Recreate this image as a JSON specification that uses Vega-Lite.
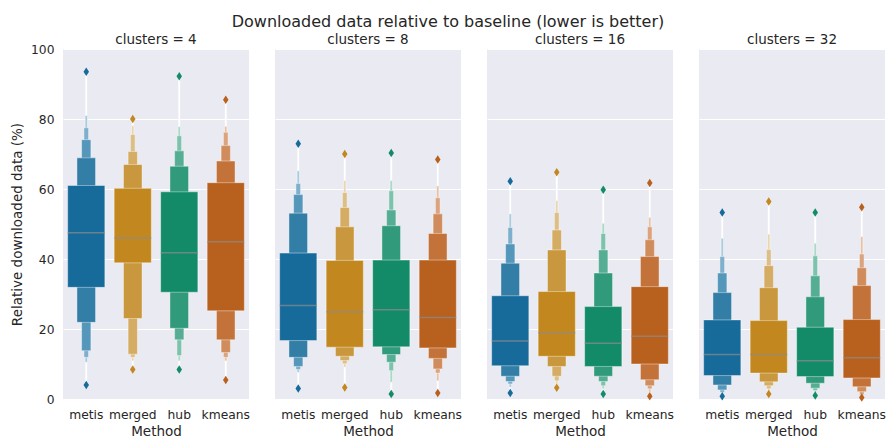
{
  "$schema": "https://vega.github.io/schema/vega-lite/v6.json",
  "background": "white",
  "padding": {"left": 10, "top": 13, "right": 4, "bottom": 2},
  "title": {"text": "Downloaded data relative to baseline (lower is better)", "fontSize": 16, "fontWeight": "normal", "color": "#262626", "font": "DejaVu Sans", "anchor": "middle", "frame": "bounds", "offset": 3},
  "data": {"values": [
    {"c":4,"m":"metis","t":0.015625,"lo":10.5,"hi":81.0},{"c":4,"m":"metis","t":0.03125,"lo":11.9,"hi":77.5},{"c":4,"m":"metis","t":0.0625,"lo":13.8,"hi":74.1},{"c":4,"m":"metis","t":0.125,"lo":21.9,"hi":68.9},{"c":4,"m":"metis","t":0.25,"lo":31.9,"hi":61.0},
    {"c":4,"m":"merged","t":0.015625,"lo":10.9,"hi":78.1},{"c":4,"m":"merged","t":0.03125,"lo":11.9,"hi":75.6},{"c":4,"m":"merged","t":0.0625,"lo":12.8,"hi":70.7},{"c":4,"m":"merged","t":0.125,"lo":23.0,"hi":67.0},{"c":4,"m":"merged","t":0.25,"lo":38.9,"hi":60.2},
    {"c":4,"m":"hub","t":0.015625,"lo":10.9,"hi":77.8},{"c":4,"m":"hub","t":0.03125,"lo":12.4,"hi":75.2},{"c":4,"m":"hub","t":0.0625,"lo":16.9,"hi":70.9},{"c":4,"m":"hub","t":0.125,"lo":20.2,"hi":66.5},{"c":4,"m":"hub","t":0.25,"lo":30.5,"hi":59.2},
    {"c":4,"m":"kmeans","t":0.015625,"lo":10.9,"hi":77.9},{"c":4,"m":"kmeans","t":0.03125,"lo":11.9,"hi":76.2},{"c":4,"m":"kmeans","t":0.0625,"lo":13.3,"hi":72.4},{"c":4,"m":"kmeans","t":0.125,"lo":16.9,"hi":68.0},{"c":4,"m":"kmeans","t":0.25,"lo":25.2,"hi":61.8},
    {"c":8,"m":"metis","t":0.015625,"lo":7.6,"hi":65.2},{"c":8,"m":"metis","t":0.03125,"lo":8.4,"hi":61.6},{"c":8,"m":"metis","t":0.0625,"lo":9.3,"hi":58.4},{"c":8,"m":"metis","t":0.125,"lo":11.9,"hi":53.1},{"c":8,"m":"metis","t":0.25,"lo":16.7,"hi":41.7},
    {"c":8,"m":"merged","t":0.015625,"lo":9.1,"hi":62.4},{"c":8,"m":"merged","t":0.03125,"lo":10.1,"hi":59.0},{"c":8,"m":"merged","t":0.0625,"lo":11.0,"hi":54.7},{"c":8,"m":"merged","t":0.125,"lo":12.2,"hi":49.2},{"c":8,"m":"merged","t":0.25,"lo":14.8,"hi":39.6},
    {"c":8,"m":"hub","t":0.015625,"lo":4.8,"hi":62.4},{"c":8,"m":"hub","t":0.03125,"lo":8.1,"hi":59.5},{"c":8,"m":"hub","t":0.0625,"lo":10.5,"hi":54.0},{"c":8,"m":"hub","t":0.125,"lo":12.7,"hi":49.5},{"c":8,"m":"hub","t":0.25,"lo":14.9,"hi":39.7},
    {"c":8,"m":"kmeans","t":0.015625,"lo":5.2,"hi":60.9},{"c":8,"m":"kmeans","t":0.03125,"lo":7.4,"hi":57.5},{"c":8,"m":"kmeans","t":0.0625,"lo":8.6,"hi":52.9},{"c":8,"m":"kmeans","t":0.125,"lo":11.6,"hi":47.3},{"c":8,"m":"kmeans","t":0.25,"lo":14.6,"hi":39.7},
    {"c":16,"m":"metis","t":0.015625,"lo":3.4,"hi":52.9},{"c":16,"m":"metis","t":0.03125,"lo":4.3,"hi":49.0},{"c":16,"m":"metis","t":0.0625,"lo":5.0,"hi":44.3},{"c":16,"m":"metis","t":0.125,"lo":6.5,"hi":38.8},{"c":16,"m":"metis","t":0.25,"lo":9.5,"hi":29.5},
    {"c":16,"m":"merged","t":0.015625,"lo":4.3,"hi":56.7},{"c":16,"m":"merged","t":0.03125,"lo":5.2,"hi":53.3},{"c":16,"m":"merged","t":0.0625,"lo":6.5,"hi":48.3},{"c":16,"m":"merged","t":0.125,"lo":9.3,"hi":42.6},{"c":16,"m":"merged","t":0.25,"lo":12.2,"hi":30.7},
    {"c":16,"m":"hub","t":0.015625,"lo":2.9,"hi":50.2},{"c":16,"m":"hub","t":0.03125,"lo":3.8,"hi":47.3},{"c":16,"m":"hub","t":0.0625,"lo":5.0,"hi":42.6},{"c":16,"m":"hub","t":0.125,"lo":6.5,"hi":36.0},{"c":16,"m":"hub","t":0.25,"lo":9.3,"hi":26.4},
    {"c":16,"m":"kmeans","t":0.015625,"lo":1.9,"hi":51.9},{"c":16,"m":"kmeans","t":0.03125,"lo":2.9,"hi":49.2},{"c":16,"m":"kmeans","t":0.0625,"lo":3.8,"hi":45.5},{"c":16,"m":"kmeans","t":0.125,"lo":5.5,"hi":40.7},{"c":16,"m":"kmeans","t":0.25,"lo":10.0,"hi":32.1},
    {"c":32,"m":"metis","t":0.015625,"lo":1.5,"hi":45.9},{"c":32,"m":"metis","t":0.03125,"lo":1.9,"hi":40.7},{"c":32,"m":"metis","t":0.0625,"lo":2.6,"hi":36.0},{"c":32,"m":"metis","t":0.125,"lo":4.0,"hi":30.4},{"c":32,"m":"metis","t":0.25,"lo":6.7,"hi":22.6},
    {"c":32,"m":"merged","t":0.015625,"lo":2.3,"hi":47.1},{"c":32,"m":"merged","t":0.03125,"lo":2.9,"hi":42.7},{"c":32,"m":"merged","t":0.0625,"lo":3.8,"hi":38.1},{"c":32,"m":"merged","t":0.125,"lo":4.9,"hi":31.8},{"c":32,"m":"merged","t":0.25,"lo":7.4,"hi":22.4},
    {"c":32,"m":"hub","t":0.015625,"lo":1.8,"hi":44.5},{"c":32,"m":"hub","t":0.03125,"lo":2.4,"hi":40.9},{"c":32,"m":"hub","t":0.0625,"lo":3.1,"hi":35.2},{"c":32,"m":"hub","t":0.125,"lo":4.5,"hi":29.2},{"c":32,"m":"hub","t":0.25,"lo":6.4,"hi":20.5},
    {"c":32,"m":"kmeans","t":0.015625,"lo":0.8,"hi":46.4},{"c":32,"m":"kmeans","t":0.03125,"lo":1.2,"hi":41.4},{"c":32,"m":"kmeans","t":0.0625,"lo":2.1,"hi":37.5},{"c":32,"m":"kmeans","t":0.125,"lo":3.5,"hi":32.4},{"c":32,"m":"kmeans","t":0.25,"lo":6.0,"hi":22.7},
    {"c":4,"m":"metis","med":47.5,"olo":4.0,"ohi":93.5},
    {"c":4,"m":"merged","med":46.0,"olo":8.4,"ohi":80.0},
    {"c":4,"m":"hub","med":41.8,"olo":8.4,"ohi":92.2},
    {"c":4,"m":"kmeans","med":44.9,"olo":5.4,"ohi":85.5},
    {"c":8,"m":"metis","med":26.7,"olo":3.0,"ohi":72.9},
    {"c":8,"m":"merged","med":24.9,"olo":3.3,"ohi":70.0},
    {"c":8,"m":"hub","med":25.5,"olo":1.4,"ohi":70.3},
    {"c":8,"m":"kmeans","med":23.3,"olo":1.7,"ohi":68.4},
    {"c":16,"m":"metis","med":16.6,"olo":1.7,"ohi":62.2},
    {"c":16,"m":"merged","med":18.9,"olo":3.2,"ohi":64.8},
    {"c":16,"m":"hub","med":15.9,"olo":1.4,"ohi":59.8},
    {"c":16,"m":"kmeans","med":17.9,"olo":0.8,"ohi":61.7},
    {"c":32,"m":"metis","med":12.7,"olo":0.8,"ohi":53.3},
    {"c":32,"m":"merged","med":12.7,"olo":1.4,"ohi":56.4},
    {"c":32,"m":"hub","med":10.9,"olo":1.0,"ohi":53.3},
    {"c":32,"m":"kmeans","med":11.8,"olo":0.4,"ohi":54.8}
  ]},
  "facet": {"column": {"field": "c", "type": "ordinal", "sort": [4, 8, 16, 32], "title": null,
    "header": {"labelExpr": "'clusters = ' + datum.value", "labelFontSize": 13.5, "labelFont": "DejaVu Sans", "labelColor": "#262626", "labelPadding": 3}}},
  "spacing": 26,
  "spec": {
    "width": 186,
    "height": 350,
    "encoding": {
      "x": {"field": "m", "type": "nominal", "sort": ["metis", "merged", "hub", "kmeans"],
        "scale": {"paddingInner": 0, "paddingOuter": 0},
        "axis": {"title": "Method", "labelAngle": 0, "grid": false, "labelPadding": 6, "titlePadding": 4}}
    },
    "layer": [
      {"transform": [{"filter": "isValid(datum.med)"}],
       "mark": {"type": "rule", "color": "white", "strokeWidth": 1.8},
       "encoding": {
         "y": {"field": "olo", "type": "quantitative", "scale": {"domain": [0, 100]},
           "axis": {"title": "Relative downloaded data (%)", "values": [0, 20, 40, 60, 80, 100], "labelPadding": 9, "titlePadding": 6}},
         "y2": {"field": "ohi"}}},
      {"transform": [{"filter": "datum.m == 'metis' && isValid(datum.t)"}],
       "mark": {"type": "bar", "stroke": "white", "strokeWidth": 0.5, "strokeOpacity": 0.8},
       "encoding": {
         "y": {"field": "lo", "type": "quantitative"}, "y2": {"field": "hi"},
         "size": {"field": "t", "type": "quantitative", "scale": {"domain": [0, 0.25], "range": [0, 37.2], "zero": true}, "legend": null},
         "color": {"field": "t", "type": "ordinal", "scale": {"domain": [0.25, 0.125, 0.0625, 0.03125, 0.015625], "range": ["#176b9b", "#337ea6", "#5597bb", "#7eb0cd", "#a9cade"]}, "legend": null}}},
      {"transform": [{"filter": "datum.m == 'merged' && isValid(datum.t)"}],
       "mark": {"type": "bar", "stroke": "white", "strokeWidth": 0.5, "strokeOpacity": 0.8},
       "encoding": {
         "y": {"field": "lo", "type": "quantitative"}, "y2": {"field": "hi"},
         "size": {"field": "t", "type": "quantitative", "scale": {"domain": [0, 0.25], "range": [0, 37.2], "zero": true}, "legend": null},
         "color": {"field": "t", "type": "ordinal", "scale": {"domain": [0.25, 0.125, 0.0625, 0.03125, 0.015625], "range": ["#c2881f", "#c9983e", "#d4ac63", "#dcbe87", "#e8d4b0"]}, "legend": null}}},
      {"transform": [{"filter": "datum.m == 'hub' && isValid(datum.t)"}],
       "mark": {"type": "bar", "stroke": "white", "strokeWidth": 0.5, "strokeOpacity": 0.8},
       "encoding": {
         "y": {"field": "lo", "type": "quantitative"}, "y2": {"field": "hi"},
         "size": {"field": "t", "type": "quantitative", "scale": {"domain": [0, 0.25], "range": [0, 37.2], "zero": true}, "legend": null},
         "color": {"field": "t", "type": "ordinal", "scale": {"domain": [0.25, 0.125, 0.0625, 0.03125, 0.015625], "range": ["#138b68", "#319a7a", "#55ae93", "#7dc2ab", "#a8d7c6"]}, "legend": null}}},
      {"transform": [{"filter": "datum.m == 'kmeans' && isValid(datum.t)"}],
       "mark": {"type": "bar", "stroke": "white", "strokeWidth": 0.5, "strokeOpacity": 0.8},
       "encoding": {
         "y": {"field": "lo", "type": "quantitative"}, "y2": {"field": "hi"},
         "size": {"field": "t", "type": "quantitative", "scale": {"domain": [0, 0.25], "range": [0, 37.2], "zero": true}, "legend": null},
         "color": {"field": "t", "type": "ordinal", "scale": {"domain": [0.25, 0.125, 0.0625, 0.03125, 0.015625], "range": ["#b8611f", "#c3733a", "#d08c5c", "#daa47f", "#e6c2a6"]}, "legend": null}}},
      {"transform": [{"filter": "isValid(datum.med)"}],
       "mark": {"type": "tick", "color": "#8c8c8c", "size": 37, "thickness": 1.5},
       "encoding": {"y": {"field": "med", "type": "quantitative"}}},
      {"transform": [{"filter": "isValid(datum.med)"}],
       "mark": {"type": "point", "filled": true, "opacity": 1, "shape": "M0,-1L0.65,0L0,1L-0.65,0Z", "size": 72},
       "encoding": {"y": {"field": "olo", "type": "quantitative"},
         "color": {"field": "m", "type": "nominal", "scale": {"domain": ["metis", "merged", "hub", "kmeans"], "range": ["#176b9b", "#c2881f", "#138b68", "#b8611f"]}, "legend": null}}},
      {"transform": [{"filter": "isValid(datum.med)"}],
       "mark": {"type": "point", "filled": true, "opacity": 1, "shape": "M0,-1L0.65,0L0,1L-0.65,0Z", "size": 72},
       "encoding": {"y": {"field": "ohi", "type": "quantitative"},
         "color": {"field": "m", "type": "nominal", "scale": {"domain": ["metis", "merged", "hub", "kmeans"], "range": ["#176b9b", "#c2881f", "#138b68", "#b8611f"]}, "legend": null}}}
    ],
    "resolve": {"scale": {"color": "independent"}}
  },
  "config": {
    "font": "DejaVu Sans",
    "view": {"fill": "#EAEAF2", "stroke": null},
    "axis": {"domain": false, "ticks": false, "gridColor": "white", "gridWidth": 1, "labelColor": "#262626", "titleColor": "#262626", "labelFontSize": 12.3, "titleFontSize": 13.5, "titleFontWeight": "normal", "labelFont": "DejaVu Sans", "titleFont": "DejaVu Sans"}
  }
}
